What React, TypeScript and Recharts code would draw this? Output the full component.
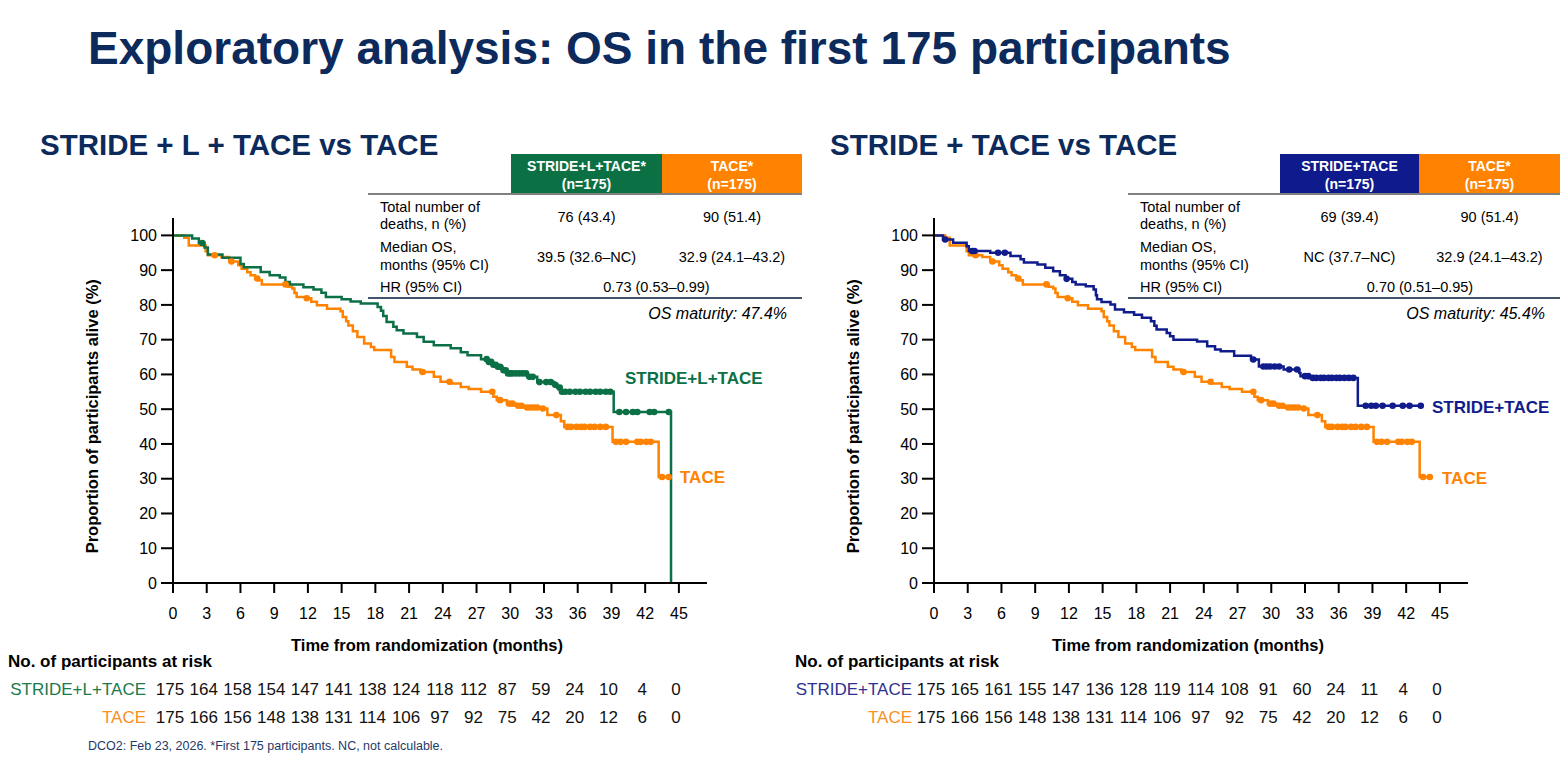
import React from 'react';
import { LineChart, Line, XAxis, YAxis } from 'recharts';

const monthTicks = [0, 3, 6, 9, 12, 15, 18, 21, 24, 27, 30, 33, 36, 39, 42, 45];
const survivalTicks = [0, 10, 20, 30, 40, 50, 60, 70, 80, 90, 100];

// at-risk counts at each month tick
const riskStrideL = [175, 164, 158, 154, 147, 141, 138, 124, 118, 112, 87, 59, 24, 10, 4, 0];
const riskStride = [175, 165, 161, 155, 147, 136, 128, 119, 114, 108, 91, 60, 24, 11, 4, 0];
const riskTace = [175, 166, 156, 148, 138, 131, 114, 106, 97, 92, 75, 42, 20, 12, 6, 0];

// KM steps: [month, % alive from that month on]
const strideLSteps: [number, number][] = [
  [0, 100], [1.7, 99.1], [2.3, 97.8], [2.8, 96.5], [3.1, 94.5], [4.4, 93.6], [6.0, 91.8], [6.3, 90.8],
  [7.8, 89.5], [8.6, 88.5], [9.5, 87.9], [10.0, 86.6], [10.4, 85.9], [11.6, 85.1], [12.5, 84.4],
  [13.2, 83.5], [13.6, 82.3], [15.0, 81.6], [15.8, 81.0], [16.7, 80.4], [18.2, 79.4], [18.5, 78.3],
  [18.7, 76.8], [19.0, 75.1], [19.6, 73.7], [19.9, 72.7], [20.5, 71.8], [21.7, 70.8], [22.3, 69.4],
  [23.2, 68.4], [24.7, 67.5], [25.6, 66.4], [26.2, 65.5], [27.4, 64.4], [28.0, 63.6], [28.4, 62.8],
  [28.8, 62.2], [29.3, 61.2], [29.7, 60.3], [31.5, 59.3], [32.4, 57.8], [33.9, 57.0], [34.2, 56.2],
  [34.5, 55.0], [39.2, 49.2], [44.3, 0],
];
const strideLCensored = [
  2.6, 27.9, 28.1, 28.3, 28.5, 28.7, 28.9, 29.1, 29.4, 29.6, 29.8, 30.0, 30.2, 30.5, 30.8, 31.1,
  31.4, 31.7, 32.0, 32.6, 33.2, 33.6, 34.0, 34.4, 34.6, 34.9, 35.3, 35.8, 36.2, 36.7, 37.1, 37.6,
  38.0, 38.5, 38.9, 39.7, 40.3, 40.9, 41.3, 42.4, 42.8, 44.1,
];

const strideSteps: [number, number][] = [
  [0, 100], [0.8, 98.8], [1.7, 97.9], [2.9, 96.9], [3.1, 95.5], [5.0, 95.0], [6.8, 94.1], [7.7, 93.1],
  [8.0, 92.2], [9.2, 91.6], [9.9, 90.7], [10.6, 89.7], [11.2, 88.5], [11.7, 87.5], [12.3, 86.6],
  [12.6, 85.9], [13.5, 85.4], [14.2, 84.4], [14.4, 82.8], [14.5, 81.6], [14.9, 80.8], [15.7, 80.1],
  [16.1, 78.7], [16.9, 77.9], [17.8, 77.2], [18.5, 76.3], [19.3, 75.3], [19.6, 74.0], [19.8, 72.9],
  [20.7, 71.9], [21.0, 71.0], [21.3, 70.0], [23.4, 69.5], [24.3, 68.1], [25.0, 67.2], [25.5, 66.7],
  [26.7, 65.4], [28.2, 64.3], [28.9, 62.3], [31.1, 61.4], [32.5, 60.4], [32.6, 59.5], [33.4, 59.0],
  [37.7, 51.0],
];
const strideCensored = [
  1.0, 3.4, 3.6, 5.7, 6.3, 11.8, 28.4, 29.3, 29.6, 29.9, 30.3, 30.7, 31.6, 32.3, 33.0, 33.3, 33.7,
  34.0, 34.4, 34.7, 35.1, 35.4, 35.8, 36.1, 36.5, 36.9, 37.3, 38.4, 38.9, 39.3, 39.9, 40.8, 41.7,
  42.3, 43.3,
];

const taceSteps: [number, number][] = [
  [0, 100], [1.0, 99.3], [1.4, 97.1], [2.9, 95.4], [3.1, 94.3], [4.3, 93.8], [5.0, 92.5], [5.8, 91.4],
  [6.1, 90.4], [6.6, 89.4], [6.9, 88.5], [7.3, 87.6], [7.6, 87.1], [7.9, 85.9], [10.2, 85.2],
  [10.6, 84.7], [10.8, 83.4], [11.0, 82.3], [11.9, 81.9], [12.3, 80.9], [12.8, 79.9], [13.7, 78.9],
  [14.9, 78.2], [15.1, 76.5], [15.4, 75.3], [15.6, 74.1], [16.0, 72.4], [16.4, 70.8], [17.0, 68.9],
  [17.6, 67.9], [17.9, 67.0], [19.4, 65.0], [19.7, 63.6], [20.8, 62.2], [21.3, 61.4], [22.0, 60.7],
  [23.2, 59.3], [23.8, 57.9], [24.7, 57.4], [25.6, 56.4], [26.3, 55.8], [27.4, 55.0], [28.5, 53.6],
  [28.8, 52.6], [29.7, 51.6], [30.5, 51.0], [31.2, 50.5], [32.7, 50.2], [33.3, 48.3], [34.5, 46.5],
  [34.8, 44.9], [39.1, 40.6], [43.2, 30.5],
];
const taceCensored = [
  3.7, 5.2, 7.5, 10.0, 11.9, 22.2, 24.6, 28.4, 29.1, 29.9, 30.2, 30.7, 31.0, 31.5, 31.8, 32.1, 32.4,
  32.9, 34.1, 35.1, 35.4, 35.9, 36.3, 36.6, 37.1, 37.5, 38.0, 38.5, 39.4, 39.8, 40.3, 41.3, 41.6,
  42.1, 42.5, 43.5, 44.1,
];

const GREEN = '#0b7046';
const ORANGE = '#ff8200';
const BLUE = '#101c8c';
const NAVY = '#0c2a5c';

type Pt = { t: number; s: number; c: boolean };

function buildCurve(steps: [number, number][], censored: number[]): Pt[] {
  const pts: Pt[] = steps.map(([t, s]) => ({ t, s, c: false }));
  censored.forEach((t) => {
    let s = steps[0][1];
    for (const [st, sv] of steps) if (st <= t) s = sv;
    pts.push({ t, s, c: true });
  });
  return pts.sort((a, b) => a.t - b.t);
}

const strideLCurve = buildCurve(strideLSteps, strideLCensored);
const strideCurve = buildCurve(strideSteps, strideCensored);
const taceCurve = buildCurve(taceSteps, taceCensored);

function Txt({ x, y, size, children, align = 'left', bold, italic, color = '#000', rotate }: any) {
  const shift = align === 'center' ? '-50%' : align === 'right' ? '-100%' : '0';
  return (
    <div
      style={{
        position: 'absolute',
        left: x,
        top: y - size / 2,
        fontSize: size,
        lineHeight: `${size}px`,
        fontWeight: bold ? 700 : 400,
        fontStyle: italic ? 'italic' : 'normal',
        color,
        whiteSpace: 'nowrap',
        transform: rotate ? `translate(-50%, 0) rotate(${rotate}deg)` : `translateX(${shift})`,
      }}
    >
      {children}
    </div>
  );
}

function censorDot(color: string) {
  return (p: any) =>
    p.payload && p.payload.c ? (
      <circle key={p.index} cx={p.cx} cy={p.cy} r={3.3} fill={color} stroke="none" />
    ) : (
      <g key={p.index} />
    );
}

function KMPanel({ left, curves, riskRows }: { left: number; curves: { data: Pt[]; color: string }[]; riskRows: number[][] }) {
  const tick = (props: any) => {
    const { x, payload } = props;
    const i = monthTicks.indexOf(payload.value);
    return (
      <g>
        <text x={x} y={613} textAnchor="middle" dominantBaseline="central" fontSize={16} fill="#000">
          {payload.value}
        </text>
        {riskRows.map((r, k) => (
          <text key={k} x={x - 3} y={689 + k * 28} textAnchor="middle" dominantBaseline="central" fontSize={17} fill="#111">
            {r[i]}
          </text>
        ))}
      </g>
    );
  };
  return (
    <div style={{ position: 'absolute', left, top: 0 }}>
      <LineChart width={800} height={767} margin={{ top: 218, right: 93, bottom: 154, left: 113 }}>
        <XAxis
          type="number"
          dataKey="t"
          domain={[0, 47.5]}
          ticks={monthTicks}
          interval={0}
          allowDataOverflow
          height={30}
          tickSize={10}
          axisLine={{ stroke: '#000', strokeWidth: 2 }}
          tickLine={{ stroke: '#000', strokeWidth: 2 }}
          tick={tick}
        />
        <YAxis
          type="number"
          domain={[0, 105]}
          ticks={survivalTicks}
          interval={0}
          width={60}
          tickSize={12}
          tickMargin={4}
          axisLine={{ stroke: '#000', strokeWidth: 2 }}
          tickLine={{ stroke: '#000', strokeWidth: 2 }}
          tick={{ fill: '#000', fontSize: 16 }}
        />
        {curves.map((c, k) => (
          <Line
            key={k}
            data={c.data}
            dataKey="s"
            type="stepAfter"
            stroke={c.color}
            strokeWidth={2.5}
            dot={censorDot(c.color)}
            activeDot={false}
            isAnimationActive={false}
          />
        ))}
      </LineChart>
    </div>
  );
}

function StatsTable({ x0, h1, hm, h2, color1, head1, deaths, medians, hr, maturity }: any) {
  const c1 = (h1 + hm) / 2;
  const c2 = (hm + h2) / 2;
  const box = (l: number, w: number, bg: string) => (
    <div style={{ position: 'absolute', left: l, top: 154, width: w, height: 40, background: bg }} />
  );
  return (
    <>
      {box(h1, hm - h1, color1)}
      {box(hm, h2 - hm, ORANGE)}
      <Txt x={c1} y={166} size={14} bold color="#fff" align="center">{head1}</Txt>
      <Txt x={c1} y={184} size={14} bold color="#fff" align="center">(n=175)</Txt>
      <Txt x={c2} y={166} size={14} bold color="#fff" align="center">TACE*</Txt>
      <Txt x={c2} y={184} size={14} bold color="#fff" align="center">(n=175)</Txt>
      <div style={{ position: 'absolute', left: x0, top: 193, width: h2 - x0, height: 2, background: '#808080' }} />
      <Txt x={x0 + 12} y={207} size={14.5}>Total number of</Txt>
      <Txt x={x0 + 12} y={224} size={14.5}>deaths, n (%)</Txt>
      <Txt x={x0 + 12} y={247} size={14.5}>Median OS,</Txt>
      <Txt x={x0 + 12} y={265} size={14.5}>months (95% CI)</Txt>
      <Txt x={x0 + 12} y={287} size={14.5}>HR (95% CI)</Txt>
      <Txt x={c1} y={217} size={14.5} align="center">{deaths[0]}</Txt>
      <Txt x={c2} y={217} size={14.5} align="center">{deaths[1]}</Txt>
      <Txt x={c1} y={257} size={14.5} align="center">{medians[0]}</Txt>
      <Txt x={c2} y={257} size={14.5} align="center">{medians[1]}</Txt>
      <Txt x={(h1 + h2) / 2} y={287} size={14.5} align="center">{hr}</Txt>
      <div style={{ position: 'absolute', left: x0, top: 297, width: h2 - x0, height: 2, background: '#44546a' }} />
      <Txt x={h2 - 15} y={314} size={16} italic align="right">{maturity}</Txt>
    </>
  );
}

export default function App() {
  return (
    <div
      style={{
        position: 'absolute',
        left: 0,
        top: 0,
        width: 1568,
        height: 767,
        background: '#fff',
        overflow: 'hidden',
        fontFamily: '"Liberation Sans", Arial, sans-serif',
      }}
    >
      <KMPanel
        left={0}
        curves={[{ data: taceCurve, color: ORANGE }, { data: strideLCurve, color: GREEN }]}
        riskRows={[riskStrideL, riskTace]}
      />
      <KMPanel
        left={761}
        curves={[{ data: taceCurve, color: ORANGE }, { data: strideCurve, color: BLUE }]}
        riskRows={[riskStride, riskTace]}
      />

      <Txt x={88} y={48} size={46} bold color={NAVY}>Exploratory analysis: OS in the first 175 participants</Txt>
      <Txt x={40} y={145} size={29.5} bold color={NAVY}>STRIDE + L + TACE vs TACE</Txt>
      <Txt x={830} y={145} size={29.5} bold color={NAVY}>STRIDE + TACE vs TACE</Txt>

      <StatsTable
        x0={368} h1={511} hm={662} h2={802} color1="#0b7145" head1="STRIDE+L+TACE*"
        deaths={['76 (43.4)', '90 (51.4)']} medians={['39.5 (32.6–NC)', '32.9 (24.1–43.2)']}
        hr="0.73 (0.53–0.99)" maturity="OS maturity: 47.4%"
      />
      <StatsTable
        x0={1128} h1={1280} hm={1419} h2={1560} color1="#0f1a8d" head1="STRIDE+TACE"
        deaths={['69 (39.4)', '90 (51.4)']} medians={['NC (37.7–NC)', '32.9 (24.1–43.2)']}
        hr="0.70 (0.51–0.95)" maturity="OS maturity: 45.4%"
      />

      <Txt x={92} y={416} size={16.5} bold rotate={-90}>Proportion of participants alive (%)</Txt>
      <Txt x={853} y={416} size={16.5} bold rotate={-90}>Proportion of participants alive (%)</Txt>
      <Txt x={427} y={645} size={16.5} bold align="center">Time from randomization (months)</Txt>
      <Txt x={1188} y={645} size={16.5} bold align="center">Time from randomization (months)</Txt>

      <Txt x={625} y={378} size={17} bold color={GREEN}>STRIDE+L+TACE</Txt>
      <Txt x={680} y={477} size={17} bold color={ORANGE}>TACE</Txt>
      <Txt x={1432} y={407} size={17} bold color={BLUE}>STRIDE+TACE</Txt>
      <Txt x={1442} y={478} size={17} bold color={ORANGE}>TACE</Txt>

      <Txt x={8} y={661} size={17} bold>No. of participants at risk</Txt>
      <Txt x={146} y={689} size={17} align="right" color="#1a7a4c">STRIDE+L+TACE</Txt>
      <Txt x={146} y={717} size={17} align="right" color="#f7901e">TACE</Txt>
      <Txt x={795} y={661} size={17} bold>No. of participants at risk</Txt>
      <Txt x={912} y={689} size={17} align="right" color="#2e3192">STRIDE+TACE</Txt>
      <Txt x={912} y={717} size={17} align="right" color="#f7901e">TACE</Txt>

      <Txt x={88} y={746} size={12.5} color="#1f3a68">DCO2: Feb 23, 2026. *First 175 participants. NC, not calculable.</Txt>
    </div>
  );
}
